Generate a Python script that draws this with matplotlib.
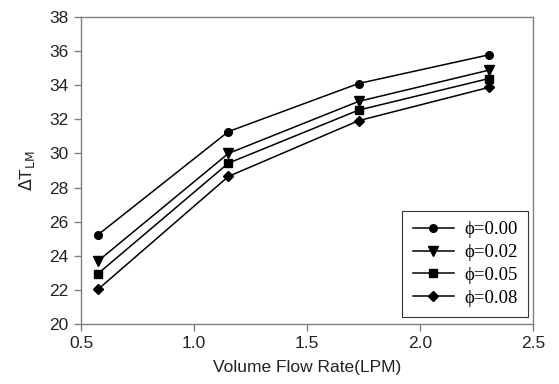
import matplotlib
matplotlib.use("Agg")
import matplotlib.pyplot as plt

flow = [0.576, 1.152, 1.728, 2.304]
phi_000 = [25.24, 31.28, 34.10, 35.78]
phi_002 = [23.70, 30.00, 33.05, 34.88]
phi_005 = [22.96, 29.43, 32.54, 34.39]
phi_008 = [22.04, 28.65, 31.92, 33.87]
labels = ["\u03d5=0.00", "\u03d5=0.02", "\u03d5=0.05", "\u03d5=0.08"]
xticks = [0.5, 1.0, 1.5, 2.0, 2.5]
yticks = [20, 22, 24, 26, 28, 30, 32, 34, 36, 38]

plt.rcParams['font.family'] = ['Liberation Sans', 'DejaVu Sans']

fig = plt.figure(figsize=(5.59, 3.84), dpi=100)
ax = fig.add_axes([81/559, 60/384, (533-81)/559, (324-17)/384])

markers = ['o', 'v', 's', 'D']
sizes = [5.5, 6.5, 5.5, 5]
series = [phi_000, phi_002, phi_005, phi_008]
for s, m, ms, lab in zip(series, markers, sizes, labels):
    ax.plot(flow, s, color='black', lw=1.1, marker=m, ms=ms,
            markerfacecolor='black', markeredgecolor='black', label=lab)

ax.set_xlim(0.5, 2.5)
ax.set_ylim(20, 38)
ax.set_xticks(xticks)
ax.set_xticklabels([f"{v:.1f}" for v in xticks])
ax.set_yticks(yticks)
for sp in ax.spines.values():
    sp.set_color('#808080')
    sp.set_linewidth(1.0)
ax.tick_params(direction='out', length=5, width=1, color='#808080',
               labelsize=12.5, labelcolor='#222222', pad=4)
ax.set_xlabel("Volume Flow Rate(LPM)", fontsize=12.5, color='#222222', labelpad=6)
ax.set_ylabel(r"$\Delta$T$_{\mathrm{LM}}$", fontsize=12.5, color='#222222', labelpad=9)

leg = ax.legend(loc='lower right', bbox_to_anchor=(528/559, 67/384),
                bbox_transform=fig.transFigure, borderaxespad=0,
                prop={'family': ['Liberation Serif', 'DejaVu Serif'], 'size': 13.5},
                fancybox=False, framealpha=1, edgecolor='#333333',
                handlelength=2.2, borderpad=0.55, labelspacing=0.3,
                handletextpad=0.55)
leg.get_frame().set_linewidth(0.8)

fig.savefig("out.png", dpi=100)
